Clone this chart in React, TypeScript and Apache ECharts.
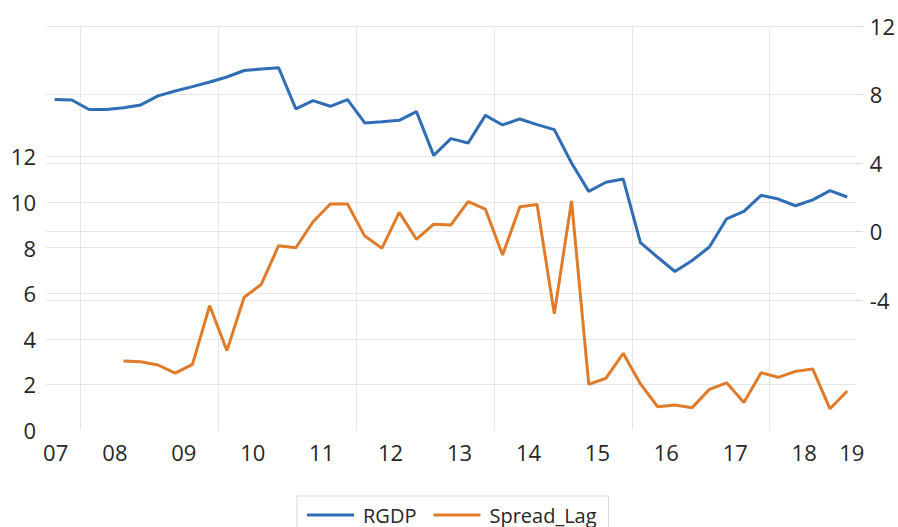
import React, { useEffect, useRef } from "react";
import * as echarts from "echarts";

// Quarterly observations, 2007Q3 .. 2019Q1
const quarters: string[] = [
  "2007Q3", "2007Q4",
  "2008Q1", "2008Q2", "2008Q3", "2008Q4",
  "2009Q1", "2009Q2", "2009Q3", "2009Q4",
  "2010Q1", "2010Q2", "2010Q3", "2010Q4",
  "2011Q1", "2011Q2", "2011Q3", "2011Q4",
  "2012Q1", "2012Q2", "2012Q3", "2012Q4",
  "2013Q1", "2013Q2", "2013Q3", "2013Q4",
  "2014Q1", "2014Q2", "2014Q3", "2014Q4",
  "2015Q1", "2015Q2", "2015Q3", "2015Q4",
  "2016Q1", "2016Q2", "2016Q3", "2016Q4",
  "2017Q1", "2017Q2", "2017Q3", "2017Q4",
  "2018Q1", "2018Q2", "2018Q3", "2018Q4",
  "2019Q1",
];

// RGDP (right axis)
const rgdp: number[] = [
  7.70, 7.68, 7.12, 7.12, 7.22, 7.39, 7.92, 8.20, 8.46, 8.73,
  9.02, 9.40, 9.49, 9.56, 7.16, 7.64, 7.31, 7.70, 6.34, 6.40,
  6.49, 7.00, 4.44, 5.42, 5.17, 6.78, 6.22, 6.57, 6.24, 5.95,
  4.00, 2.34, 2.87, 3.06, -0.66, -1.51, -2.34, -1.70, -0.91, 0.74,
  1.17, 2.11, 1.89, 1.50, 1.84, 2.38, 2.01,
];

// Spread_Lag (left axis)
const spreadLag: (number | null)[] = [
  null, null, null, null, 3.02, 2.99, 2.85, 2.49, 2.88, 5.45,
  3.48, 5.82, 6.39, 8.08, 7.99, 9.13, 9.91, 9.91, 8.50, 7.97,
  9.54, 8.36, 9.02, 8.99, 10.01, 9.68, 7.67, 9.79, 9.89, 5.09,
  10.04, 2.00, 2.27, 3.36, 2.02, 1.02, 1.10, 0.98, 1.78, 2.07,
  1.21, 2.51, 2.31, 2.57, 2.67, 0.93, 1.71,
];

const yearLabels: string[] = ["07", "08", "09", "10", "11", "12", "13", "14", "15", "16", "17", "18", "19"];
const gridYears: number[] = [2008, 2010, 2012, 2014, 2016, 2018];
const leftTicks: number[] = [0, 2, 4, 6, 8, 10, 12];
const rightTicks: number[] = [-4, 0, 4, 8, 12];

const qToT = (q: string) => {
  const y = parseInt(q.slice(0, 4), 10);
  const n = parseInt(q.slice(5), 10);
  return y + (n - 0.5) / 4;
};

export default function App() {
  const ref = useRef<HTMLDivElement>(null);
  useEffect(() => {
    if (!ref.current) return;
    const chart = echarts.init(ref.current, undefined, { renderer: "svg" });
    const ts = quarters.map(qToT);
    const tMin = 2007.5;
    const tMax = 2019.25;
    const labelPos = yearLabels.map((l) => {
      const c = 2000 + parseInt(l, 10) + 0.5;
      return Math.min(Math.max(c, ts[0] + 0.015), ts[ts.length - 1] + 0.065);
    });
    const font = "'Open Sans', sans-serif";
    const textColor = "#262626";
    const gridColor = "#e6e6e6";
    chart.setOption({
      animation: false,
      backgroundColor: "#ffffff",
      grid: { left: 46, right: 40, top: 26, bottom: 97 },
      xAxis: {
        type: "value",
        min: tMin,
        max: tMax,
        axisLine: { show: false },
        axisTick: { show: false, customValues: gridYears },
        splitLine: { show: true, lineStyle: { color: gridColor, width: 1 } },
        axisLabel: {
          customValues: labelPos,
          formatter: (v: number) => String(Math.floor(v) % 100).padStart(2, "0"),
          fontSize: 22,
          fontFamily: font,
          color: textColor,
          margin: 11,
        },
      },
      yAxis: [
        {
          type: "value",
          position: "left",
          min: 0,
          max: 17.71,
          axisLine: { show: false },
          axisTick: { show: false, customValues: leftTicks.filter((v) => v > 0) },
          splitLine: { show: true, lineStyle: { color: gridColor, width: 1 } },
          axisLabel: {
            customValues: leftTicks,
            fontSize: 22,
            fontFamily: font,
            color: textColor,
            margin: 10,
            padding: [0, 0, 5, 0],
          },
        },
        {
          type: "value",
          position: "right",
          min: -11.6,
          max: 12,
          axisLine: { show: false },
          axisTick: {
            show: true,
            customValues: rightTicks,
            length: 7,
            lineStyle: { color: "#d9d9d9" },
          },
          splitLine: { show: true, lineStyle: { color: gridColor, width: 1 } },
          axisLabel: {
            customValues: rightTicks,
            fontSize: 22,
            fontFamily: font,
            color: textColor,
            margin: 14,
            padding: [0, 0, 6, 0],
          },
        },
      ],
      legend: {
        left: 297,
        top: 496,
        borderColor: "#d9d9d9",
        borderWidth: 1,
        padding: [9, 12, 9, 10],
        itemWidth: 47,
        itemHeight: 3,
        itemGap: 17,
        icon: "rect",
        textStyle: { fontSize: 20, fontFamily: font, color: textColor, padding: [0, 0, 0, 4] },
        data: ["RGDP", "Spread_Lag"],
      },
      series: [
        {
          name: "Spread_Lag",
          type: "line",
          yAxisIndex: 0,
          showSymbol: false,
          symbol: "none",
          color: "#E07B2A",
          lineStyle: { width: 3, color: "#E07B2A" },
          data: spreadLag
            .map((v, i) => (v === null ? null : [ts[i], v]))
            .filter((d) => d !== null),
        },
        {
          name: "RGDP",
          type: "line",
          yAxisIndex: 1,
          showSymbol: false,
          symbol: "none",
          color: "#2F6DB5",
          lineStyle: { width: 3, color: "#2F6DB5" },
          data: rgdp.map((v, i) => [ts[i], v]),
        },
      ],
    });
    return () => chart.dispose();
  }, []);
  return (
    <div
      ref={ref}
      style={{ position: "fixed", left: 0, top: 0, width: 898, height: 527 }}
    />
  );
}
